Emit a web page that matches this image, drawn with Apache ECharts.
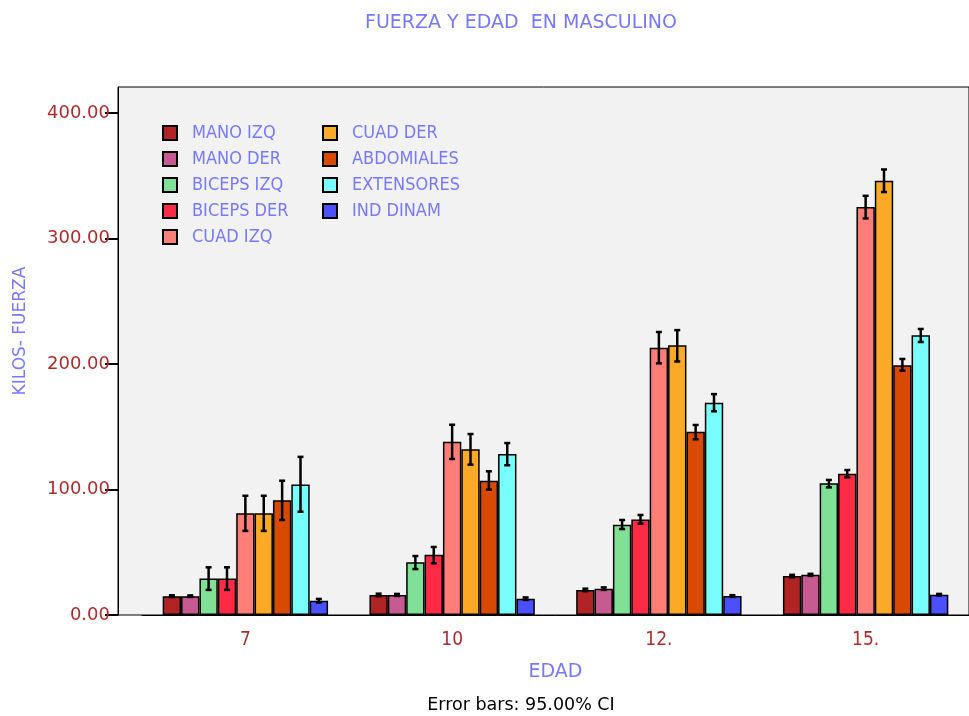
<!DOCTYPE html>
<html>
<head>
<meta charset="utf-8">
<script src="https://cdn.jsdelivr.net/npm/echarts@6/dist/echarts.min.js"></script>
<style>html,body{margin:0;padding:0;background:#fff;}#c{width:969px;height:716px;}</style>
</head>
<body>
<div id="c"></div>
<script>
const categories = ['7', '10', '12.', '15.'];
const seriesNames = ['MANO IZQ', 'MANO DER', 'BICEPS IZQ', 'BICEPS DER', 'CUAD IZQ', 'CUAD DER', 'ABDOMIALES', 'EXTENSORES', 'IND DINAM'];
const colors = ['#b02424', '#c85a92', '#80e096', '#ff2a45', '#ff7f78', '#fba927', '#d84a00', '#77fefd', '#4a4fff'];
const yTicks = [0, 100, 200, 300, 400];

const manoIzq   = [15.0, 16.0, 20.0, 31.0];
const manoDer   = [15.0, 16.0, 21.0, 32.0];
const bicepsIzq = [29.0, 42.0, 72.0, 105.0];
const bicepsDer = [29.0, 48.0, 76.0, 112.6];
const cuadIzq   = [81.0, 138.0, 213.0, 325.0];
const cuadDer   = [81.0, 132.0, 215.0, 346.0];
const abdomiales= [91.4, 107.0, 146.0, 199.0];
const extensores= [104.0, 128.3, 169.2, 222.8];
const indDinam  = [11.4, 13.0, 15.1, 16.2];

const manoIzqCI   = [[14.3, 15.7], [15.0, 17.0], [19.0, 21.0], [30.0, 32.0]];
const manoDerCI   = [[14.4, 15.6], [15.2, 16.8], [20.0, 22.0], [31.2, 32.8]];
const bicepsIzqCI = [[20.0, 38.0], [36.6, 47.0], [68.5, 75.7], [101.7, 107.6]];
const bicepsDerCI = [[20.0, 38.0], [41.2, 54.2], [72.8, 79.7], [109.7, 115.5]];
const cuadIzqCI   = [[67.0, 95.0], [124.3, 151.6], [200.5, 225.5], [316.0, 334.0]];
const cuadDerCI   = [[67.0, 95.0], [119.8, 144.2], [202.0, 227.0], [337.0, 355.0]];
const abdomialesCI= [[75.7, 107.0], [99.9, 114.5], [140.0, 151.4], [194.7, 204.0]];
const extensoresCI= [[82.3, 126.0], [119.3, 137.0], [162.3, 176.0], [217.5, 227.9]];
const indDinamCI  = [[10.0, 12.8], [12.0, 14.0], [14.4, 15.8], [15.6, 16.8]];

const values = [manoIzq, manoDer, bicepsIzq, bicepsDer, cuadIzq, cuadDer, abdomiales, extensores, indDinam];
const cis = [manoIzqCI, manoDerCI, bicepsIzqCI, bicepsDerCI, cuadIzqCI, cuadDerCI, abdomialesCI, extensoresCI, indDinamCI];

const FONT = 'DejaVu Sans';
const FONTC = '"DejaVu Sans Condensed", "DejaVu Sans"';
const BLUE = '#7878ff';
const TICKRED = '#b02c2c';
const YMAX = 420.7;
const GAP = 0.2;
const N = seriesNames.length;

const barSeries = seriesNames.map((name, i) => ({
  name: name,
  type: 'bar',
  xAxisIndex: 1,
  yAxisIndex: 1,
  data: values[i],
  barGap: '0%',
  barCategoryGap: (GAP * 100) + '%',
  itemStyle: { color: colors[i], borderColor: '#000', borderWidth: 1.5 },
  emphasis: { disabled: true },
  animation: false
}));

const errData = [];
cis.forEach((arr, s) => arr.forEach((ci, c) => errData.push([c, s, ci[0], ci[1]])));

const errSeries = {
  type: 'custom',
  xAxisIndex: 1,
  yAxisIndex: 1,
  data: errData,
  z: 10,
  silent: true,
  animation: false,
  renderItem: function (params, api) {
    const c = api.value(0), s = api.value(1);
    const lo = api.coord([c, api.value(2)]);
    const hi = api.coord([c, api.value(3)]);
    const band = api.size([1, 0])[0];
    const bw = band * (1 - GAP) / N;
    const x = lo[0] - band * (1 - GAP) / 2 + (s + 0.5) * bw;
    const cap = 3;
    const st = { stroke: '#000', lineWidth: 2.5 };
    return {
      type: 'group',
      children: [
        { type: 'line', shape: { x1: x, y1: lo[1], x2: x, y2: hi[1] }, style: st },
        { type: 'line', shape: { x1: x - cap, y1: lo[1], x2: x + cap, y2: lo[1] }, style: st },
        { type: 'line', shape: { x1: x - cap, y1: hi[1], x2: x + cap, y2: hi[1] }, style: st }
      ]
    };
  }
};

const legendCommon = {
  orient: 'vertical',
  itemWidth: 14,
  itemHeight: 14,
  itemGap: 8,
  icon: 'rect',
  selectedMode: false,
  textStyle: { color: BLUE, fontFamily: FONTC, fontSize: 18, padding: [0, 0, 0, 10] }
};

const chart = echarts.init(document.getElementById('c'), null, { renderer: 'canvas' });
chart.setOption({
  backgroundColor: '#ffffff',
  animation: false,
  title: {
    text: 'FUERZA Y EDAD  EN MASCULINO',
    left: 516, top: 9, textAlign: 'center',
    textStyle: { color: BLUE, fontFamily: FONT, fontSize: 19, fontWeight: 'normal' }
  },
  legend: [
    Object.assign({ left: 157, top: 119, data: seriesNames.slice(0, 5) }, legendCommon),
    Object.assign({ left: 317, top: 119, data: seriesNames.slice(5) }, legendCommon)
  ],
  grid: [
    { left: 118, top: 87, right: -3, bottom: 101, show: true, backgroundColor: '#f2f2f2', borderColor: '#000', borderWidth: 1, containLabel: false },
    { left: 142, top: 87, right: 0, bottom: 101, containLabel: false }
  ],
  xAxis: [
    { type: 'value', gridIndex: 0, show: false, min: 0, max: 1 },
    {
      type: 'category', gridIndex: 1, data: categories,
      name: 'EDAD', nameLocation: 'middle', nameGap: 48,
      nameTextStyle: { color: BLUE, fontFamily: FONT, fontSize: 19 },
      axisLine: { lineStyle: { color: '#000', width: 1 } },
      axisTick: { alignWithLabel: true, length: 13, lineStyle: { color: '#000', width: 2 } },
      axisLabel: { color: TICKRED, fontFamily: FONTC, fontSize: 19, margin: 16 }
    }
  ],
  yAxis: [
    {
      type: 'value', gridIndex: 0, min: 0, max: YMAX,
      axisLine: { show: true, lineStyle: { color: '#000', width: 1 } },
      axisTick: { show: true, length: 13, customValues: yTicks, lineStyle: { color: '#000', width: 2 } },
      axisLabel: { color: TICKRED, fontFamily: FONT, fontSize: 18, margin: 8, customValues: yTicks,
        formatter: v => v.toFixed(2) },
      splitLine: { show: false }
    },
    { type: 'value', gridIndex: 1, min: 0, max: YMAX, show: false, splitLine: { show: false } }
  ],
  graphic: [
    { type: 'text', x: 21, y: 331, rotation: Math.PI / 2,
      style: { text: 'KILOS- FUERZA', fill: BLUE, font: '17px "DejaVu Sans"', align: 'center', verticalAlign: 'middle' } },
    { type: 'text', x: 521, y: 705,
      style: { text: 'Error bars: 95.00% CI', fill: '#000', font: '17.5px "DejaVu Sans"', align: 'center', verticalAlign: 'middle' } }
  ],
  series: barSeries.concat([errSeries])
});
</script>
</body>
</html>
